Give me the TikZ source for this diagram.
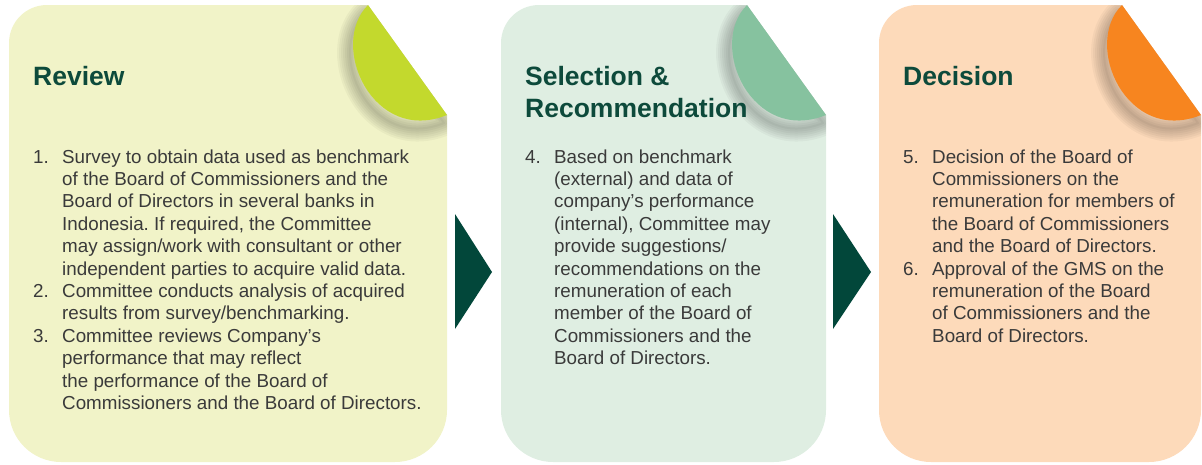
\documentclass[tikz,border=0pt]{standalone}
\usepackage{fontspec}
\setmainfont{Liberation Sans}
\usepackage{xcolor}
\usepackage{tikz}
\definecolor{reviewfill}{HTML}{F1F3C8}
\definecolor{reviewcurl}{HTML}{C3D92D}
\definecolor{selectfill}{HTML}{DFEEE2}
\definecolor{selectcurl}{HTML}{86C29F}
\definecolor{decidefill}{HTML}{FDDABA}
\definecolor{decidecurl}{HTML}{F7851F}
\definecolor{arrowgreen}{HTML}{02473A}
\definecolor{headgreen}{HTML}{0D4A3B}
\definecolor{bodygray}{HTML}{3A3A3A}
\frenchspacing
\newcommand{\panelpath}[2]{(#1,43) arc[start angle=180,end angle=90,radius=38pt] -- ({#2-79},5) -- (#2,115) -- (#2,410) arc[start angle=0,end angle=-90,radius=52pt] -- ({#1+52},462) arc[start angle=270,end angle=180,radius=52pt] -- cycle}
\newcommand{\curlpath}[1]{({#1-79},5) .. controls ({#1-119},45) and ({#1-74},145) .. (#1,115) -- cycle}
\newcommand{\curlshadow}[2]{%
  \begin{scope}
    \clip \panelpath{#1}{#2};
    \foreach \w in {26,22,18,14,10,6,2}
      \draw[black,opacity=0.035,line width=\w pt,line join=round,shift={(-3,8)}] \curlpath{#2};
  \end{scope}}

\begin{document}
\begin{tikzpicture}[x=1pt,y=-1pt,
    head/.style={anchor=base west,inner sep=0pt,text=headgreen,font=\fontsize{26.5}{32}\selectfont\bfseries},
    body/.style={anchor=base west,inner sep=0pt,text=bodygray,font=\fontsize{18.8}{22.4}\selectfont}]
  \useasboundingbox (0,0) rectangle (1202,464);

  \fill[reviewfill] \panelpath{9}{447};
  \curlshadow{9}{447}
  \fill[reviewcurl] \curlpath{447};

  \fill[selectfill] \panelpath{501}{826};
  \curlshadow{501}{826}
  \fill[selectcurl] \curlpath{826};

  \fill[decidefill] \panelpath{879}{1201};
  \curlshadow{879}{1201}
  \fill[decidecurl] \curlpath{1201};

  \fill[arrowgreen] (455,214) -- (492,272) -- (455,329) -- cycle;
  \fill[arrowgreen] (833,214) -- (871,272) -- (833,329) -- cycle;

  \node[head] (reviewhead) at (33,85) {Review};
  \node[head] (selecthead) at (525,85) {\begin{tabular}[t]{@{}l@{}}Selection \&\\Recommendation\end{tabular}};
  \node[head] (decidehead) at (903,85) {Decision};

  \node[body] (reviewsteps) at (33,163) {\begin{tabular}[t]{@{}p{29pt}@{}l@{}}
    1. & Survey to obtain data used as benchmark\\
       & of the Board of Commissioners and the\\
       & Board of Directors in several banks in\\
       & Indonesia. If required, the Committee\\
       & may assign/work with consultant or other\\
       & independent parties to acquire valid data.\\
    2. & Committee conducts analysis of acquired\\
       & results from survey/benchmarking.\\
    3. & Committee reviews Company’s\\
       & performance that may reflect\\
       & the performance of the Board of\\
       & Commissioners and the Board of Directors.
  \end{tabular}};

  \node[body] (selectsteps) at (525,163) {\begin{tabular}[t]{@{}p{29pt}@{}l@{}}
    4. & Based on benchmark\\
       & (external) and data of\\
       & company’s performance\\
       & (internal), Committee may\\
       & provide suggestions/\\
       & recommendations on the\\
       & remuneration of each\\
       & member of the Board of\\
       & Commissioners and the\\
       & Board of Directors.
  \end{tabular}};

  \node[body] (decidesteps) at (903,163) {\begin{tabular}[t]{@{}p{29pt}@{}l@{}}
    5. & Decision of the Board of\\
       & Commissioners on the\\
       & remuneration for members of\\
       & the Board of Commissioners\\
       & and the Board of Directors.\\
    6. & Approval of the GMS on the\\
       & remuneration of the Board\\
       & of Commissioners and the\\
       & Board of Directors.
  \end{tabular}};
\end{tikzpicture}
\end{document}
